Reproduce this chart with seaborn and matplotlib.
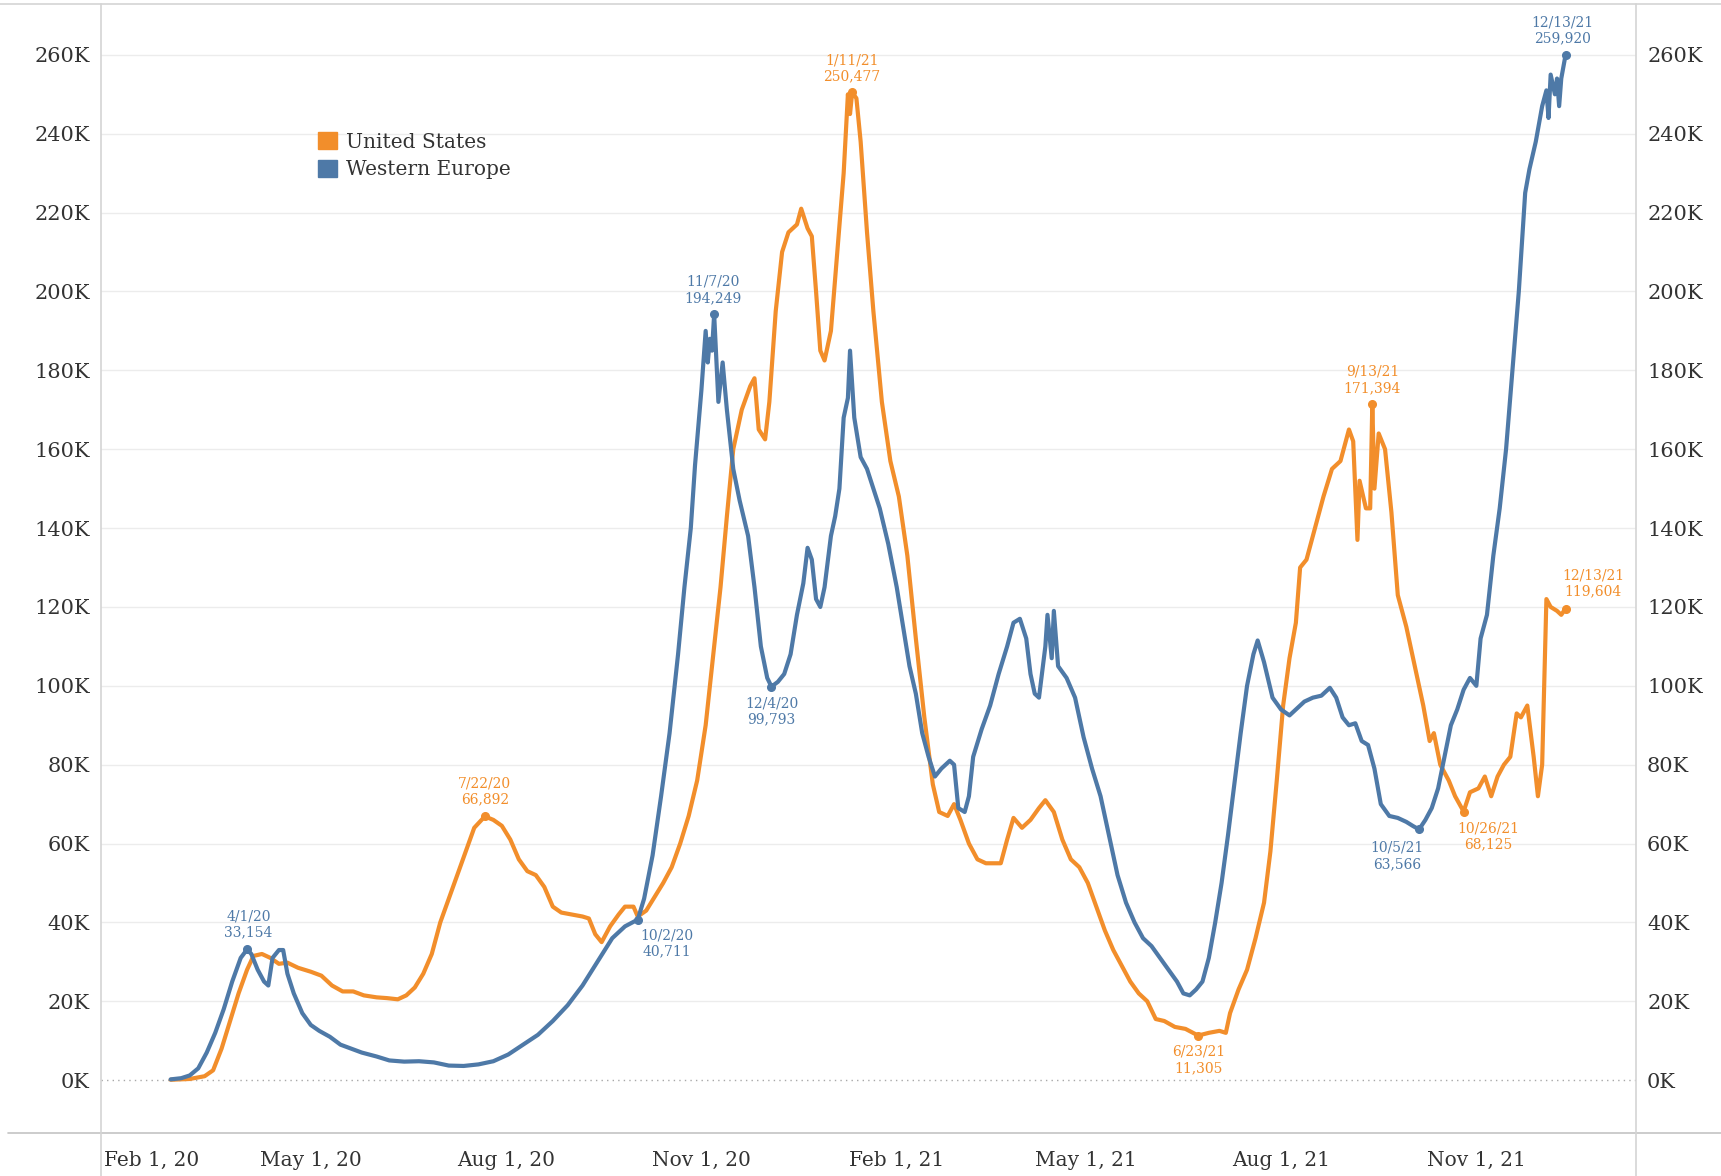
import pandas as pd
import seaborn as sns
import matplotlib.pyplot as plt
import matplotlib.dates as mdates
from matplotlib.lines import Line2D
from matplotlib.patches import Patch
from matplotlib.ticker import FuncFormatter
from matplotlib.transforms import ScaledTranslation

# daily new cases (7-day avg), in thousands
us_dates = [
    "2020-02-25", "2020-03-05", "2020-03-12", "2020-03-16", "2020-03-20", "2020-03-24",
    "2020-03-28", "2020-04-01", "2020-04-04", "2020-04-08", "2020-04-12", "2020-04-16",
    "2020-04-20", "2020-04-25", "2020-05-01", "2020-05-06", "2020-05-11", "2020-05-16",
    "2020-05-21", "2020-05-26", "2020-06-01", "2020-06-06", "2020-06-11", "2020-06-15",
    "2020-06-19", "2020-06-23", "2020-06-27", "2020-07-01", "2020-07-05", "2020-07-09",
    "2020-07-13", "2020-07-17", "2020-07-22", "2020-07-26", "2020-07-30", "2020-08-03",
    "2020-08-07", "2020-08-11", "2020-08-15", "2020-08-19", "2020-08-23", "2020-08-27",
    "2020-09-01", "2020-09-06", "2020-09-09", "2020-09-12", "2020-09-15", "2020-09-19",
    "2020-09-23", "2020-09-26", "2020-09-30", "2020-10-02", "2020-10-06", "2020-10-10",
    "2020-10-14", "2020-10-18", "2020-10-22", "2020-10-26", "2020-10-30", "2020-11-03",
    "2020-11-07", "2020-11-10", "2020-11-13", "2020-11-16", "2020-11-20", "2020-11-24",
    "2020-11-26", "2020-11-28", "2020-12-01", "2020-12-03", "2020-12-06", "2020-12-09",
    "2020-12-12", "2020-12-16", "2020-12-18", "2020-12-21", "2020-12-23", "2020-12-25",
    "2020-12-27", "2020-12-29", "2021-01-01", "2021-01-04", "2021-01-07", "2021-01-09",
    "2021-01-10", "2021-01-11", "2021-01-13", "2021-01-15", "2021-01-18", "2021-01-21",
    "2021-01-25", "2021-01-29", "2021-02-02", "2021-02-06", "2021-02-10", "2021-02-14",
    "2021-02-18", "2021-02-21", "2021-02-25", "2021-02-28", "2021-03-03", "2021-03-07",
    "2021-03-11", "2021-03-15", "2021-03-19", "2021-03-22", "2021-03-25", "2021-03-28",
    "2021-04-01", "2021-04-05", "2021-04-09", "2021-04-12", "2021-04-16", "2021-04-20",
    "2021-04-24", "2021-04-28", "2021-05-02", "2021-05-06", "2021-05-10", "2021-05-14",
    "2021-05-18", "2021-05-22", "2021-05-26", "2021-05-30", "2021-06-03", "2021-06-07",
    "2021-06-12", "2021-06-17", "2021-06-23", "2021-06-28", "2021-07-03", "2021-07-06",
    "2021-07-08", "2021-07-12", "2021-07-16", "2021-07-20", "2021-07-24", "2021-07-27",
    "2021-07-30", "2021-08-02", "2021-08-05", "2021-08-08", "2021-08-10", "2021-08-13",
    "2021-08-17", "2021-08-21", "2021-08-25", "2021-08-29", "2021-09-02", "2021-09-04",
    "2021-09-06", "2021-09-07", "2021-09-10", "2021-09-12", "2021-09-13", "2021-09-14",
    "2021-09-16", "2021-09-19", "2021-09-22", "2021-09-25", "2021-09-29", "2021-10-03",
    "2021-10-07", "2021-10-10", "2021-10-12", "2021-10-15", "2021-10-19", "2021-10-22",
    "2021-10-26", "2021-10-29", "2021-11-02", "2021-11-05", "2021-11-08", "2021-11-11",
    "2021-11-14", "2021-11-17", "2021-11-20", "2021-11-22", "2021-11-25", "2021-11-28",
    "2021-11-30", "2021-12-02", "2021-12-04", "2021-12-06", "2021-12-09", "2021-12-11",
    "2021-12-13",
]
us_cases = [
    0.1, 0.3, 1.0, 2.5, 8, 15,
    22, 28, 31.5, 32, 31, 29.5,
    29.8, 28.5, 27.5, 26.5, 24, 22.5,
    22.5, 21.5, 21, 20.8, 20.5, 21.5,
    23.5, 27, 32, 40, 46, 52,
    58, 64, 66.892, 66, 64.5, 61,
    56, 53, 52, 49, 44, 42.5,
    42, 41.5, 41, 37, 35, 39,
    42, 44, 44, 41.5, 43, 46.5,
    50, 54, 60, 67, 76, 90,
    110, 125, 143, 160, 170, 176,
    178, 165, 162.5, 172, 195, 210,
    215, 217, 221, 216, 214, 200,
    185, 182.5, 190, 210, 230, 250,
    245, 250.477, 249, 238, 215, 195,
    172, 157, 148, 133, 112, 92,
    75, 68, 67, 70, 66, 60,
    56, 55, 55, 55, 61, 66.5,
    64, 66, 69, 71, 68, 61,
    56, 54, 50, 44, 38, 33,
    29, 25, 22, 20, 15.5, 15,
    13.5, 13, 11.305, 12, 12.5, 12,
    17, 23, 28, 36, 45, 58,
    76, 95, 107, 116, 130, 132,
    140, 148, 155, 157, 165, 162,
    137, 152, 145, 145, 171.394, 150,
    164, 160, 144, 123, 115, 105,
    95, 86, 88, 80, 76, 72,
    68.125, 73, 74, 77, 72, 77,
    80, 82, 93, 92, 95, 82,
    72, 80, 122, 120, 119, 118,
    119.604,
]

we_dates = [
    "2020-02-25", "2020-03-01", "2020-03-05", "2020-03-09", "2020-03-13", "2020-03-17",
    "2020-03-21", "2020-03-25", "2020-03-29", "2020-04-01", "2020-04-03", "2020-04-06",
    "2020-04-09", "2020-04-11", "2020-04-13", "2020-04-16", "2020-04-18", "2020-04-20",
    "2020-04-23", "2020-04-27", "2020-05-01", "2020-05-05", "2020-05-10", "2020-05-15",
    "2020-05-20", "2020-05-25", "2020-06-01", "2020-06-07", "2020-06-14", "2020-06-21",
    "2020-06-28", "2020-07-05", "2020-07-12", "2020-07-19", "2020-07-26", "2020-08-02",
    "2020-08-09", "2020-08-16", "2020-08-23", "2020-08-30", "2020-09-06", "2020-09-13",
    "2020-09-20", "2020-09-26", "2020-10-02", "2020-10-05", "2020-10-09", "2020-10-13",
    "2020-10-17", "2020-10-21", "2020-10-24", "2020-10-27", "2020-10-29", "2020-11-01",
    "2020-11-03", "2020-11-04", "2020-11-05", "2020-11-06", "2020-11-07", "2020-11-09",
    "2020-11-11", "2020-11-13", "2020-11-16", "2020-11-19", "2020-11-23", "2020-11-26",
    "2020-11-29", "2020-12-02", "2020-12-04", "2020-12-07", "2020-12-10", "2020-12-13",
    "2020-12-16", "2020-12-19", "2020-12-21", "2020-12-23", "2020-12-25", "2020-12-27",
    "2020-12-29", "2021-01-01", "2021-01-03", "2021-01-05", "2021-01-07", "2021-01-09",
    "2021-01-10", "2021-01-12", "2021-01-15", "2021-01-18", "2021-01-21", "2021-01-24",
    "2021-01-28", "2021-02-01", "2021-02-04", "2021-02-07", "2021-02-10", "2021-02-13",
    "2021-02-16", "2021-02-19", "2021-02-22", "2021-02-26", "2021-02-28", "2021-03-02",
    "2021-03-05", "2021-03-07", "2021-03-09", "2021-03-13", "2021-03-17", "2021-03-21",
    "2021-03-25", "2021-03-28", "2021-03-31", "2021-04-03", "2021-04-05", "2021-04-07",
    "2021-04-09", "2021-04-12", "2021-04-13", "2021-04-15", "2021-04-16", "2021-04-18",
    "2021-04-22", "2021-04-26", "2021-04-30", "2021-05-04", "2021-05-08", "2021-05-12",
    "2021-05-16", "2021-05-20", "2021-05-24", "2021-05-28", "2021-06-01", "2021-06-05",
    "2021-06-09", "2021-06-13", "2021-06-16", "2021-06-19", "2021-06-22", "2021-06-25",
    "2021-06-28", "2021-07-01", "2021-07-04", "2021-07-07", "2021-07-10", "2021-07-13",
    "2021-07-16", "2021-07-19", "2021-07-21", "2021-07-24", "2021-07-28", "2021-08-01",
    "2021-08-05", "2021-08-08", "2021-08-12", "2021-08-16", "2021-08-20", "2021-08-24",
    "2021-08-27", "2021-08-30", "2021-09-02", "2021-09-05", "2021-09-08", "2021-09-11",
    "2021-09-14", "2021-09-17", "2021-09-21", "2021-09-25", "2021-09-29", "2021-10-02",
    "2021-10-05", "2021-10-08", "2021-10-11", "2021-10-14", "2021-10-17", "2021-10-20",
    "2021-10-23", "2021-10-26", "2021-10-29", "2021-11-01", "2021-11-03", "2021-11-06",
    "2021-11-09", "2021-11-12", "2021-11-15", "2021-11-18", "2021-11-21", "2021-11-24",
    "2021-11-26", "2021-11-29", "2021-12-02", "2021-12-04", "2021-12-05", "2021-12-06",
    "2021-12-08", "2021-12-09", "2021-12-10", "2021-12-11", "2021-12-13",
]
we_cases = [
    0.2, 0.5, 1.2, 3, 7, 12,
    18, 25, 31, 33.154, 32, 28,
    25, 24, 31, 33, 33, 27,
    22, 17, 14, 12.5, 11, 9,
    8, 7, 6, 5, 4.7, 4.8,
    4.5, 3.7, 3.6, 4, 4.8, 6.5,
    9, 11.5, 15, 19, 24, 30,
    36, 39, 40.711, 46, 57, 72,
    88, 108, 125, 140, 156, 175,
    190, 182, 188, 185, 194.249, 172,
    182, 170, 155, 147, 138, 125,
    110, 102, 99.793, 101, 103, 108,
    118, 126, 135, 132, 122, 120,
    125, 138, 143, 150, 168, 173,
    185, 168, 158, 155, 150, 145,
    136, 125, 115, 105, 98, 88,
    82, 77, 79, 81, 80, 69,
    68, 72, 82, 89, 95, 103,
    110, 116, 117, 112, 103, 98,
    97, 110, 118, 107, 119, 105,
    102, 97, 87, 79, 72, 62,
    52, 45, 40, 36, 34, 31,
    28, 25, 22, 21.5, 23, 25,
    31, 40, 50, 62, 75, 88,
    100, 108, 111.5, 106, 97, 94,
    92.5, 94, 96, 97, 97.5, 99.5,
    97, 92, 90, 90.5, 86, 85,
    79, 70, 67, 66.5, 65.5, 64.5,
    63.566, 66, 69, 74, 82, 90,
    94, 99, 102, 100, 112, 118,
    133, 145, 160, 180, 200, 225,
    231, 238, 247, 251, 244, 255,
    250, 254, 247, 254, 259.92,
]

regions = ["United States", "Western Europe"]
colors = ["#F28E2B", "#4E79A7"]

# labelled marks
us_marked = ["2020-07-22", "2021-01-11", "2021-06-23", "2021-09-13", "2021-10-26", "2021-12-13"]
we_marked = ["2020-04-01", "2020-10-02", "2020-11-07", "2020-12-04", "2021-10-05", "2021-12-13"]
y_ticks = list(range(0, 261, 20))

# label offsets in points (dx, dy)
us_offsets = [(0, 18), (0, 17.5), (0, -17.5), (0, 17.5), (18, -18), (20, 18)]
we_offsets = [(1, 18), (21, -17), (-1, 17.5), (0, -18), (-16, -19), (-2, 18)]

sns.set_style("white")
plt.rcParams["font.family"] = ["DejaVu Serif"]

df = pd.concat([
    pd.DataFrame({"date": pd.to_datetime(us_dates), "cases": us_cases, "region": regions[0]}),
    pd.DataFrame({"date": pd.to_datetime(we_dates), "cases": we_cases, "region": regions[1]}),
])

fig = plt.figure(figsize=(17.21, 11.76), dpi=100)
W, H = 1721, 1176
ax = fig.add_axes([101 / W, 1 - 1133 / H, (1636 - 101) / W, (1133 - 4.4) / H])

sns.lineplot(data=df, x="date", y="cases", hue="region", palette=dict(zip(regions, colors)),
             linewidth=3.0, legend=False, ax=ax, zorder=3)

# marks + labels
for dates, vals, marked, offs, col in [(us_dates, us_cases, us_marked, us_offsets, colors[0]),
                                       (we_dates, we_cases, we_marked, we_offsets, colors[1])]:
    lookup = dict(zip(dates, vals))
    for d, (dx, dy) in zip(marked, offs):
        v = lookup[d]
        t = pd.Timestamp(d)
        ax.plot([t], [v], "o", color=col, ms=5.5, zorder=4)
        txt = f"{t.month}/{t.day}/{t.strftime('%y')}\n{v * 1000:,.0f}"
        ax.annotate(txt, (t, v), xytext=(dx, dy), textcoords="offset points",
                    ha="center", va="center", color=col, fontsize=10, linespacing=1.2)

start = pd.Timestamp("2020-02-01")
ax.set_xlim(start - pd.Timedelta(days=8.8), start + pd.Timedelta(days=714.2))
ax.set_ylim(-13.4, 272.8)

ax.set_yticks(y_ticks)
ax.yaxis.set_major_formatter(FuncFormatter(lambda v, p: f"{v:.0f}K"))
ax.tick_params(axis="y", length=0, labelsize=15, pad=8, labelleft=True, labelright=True,
               labelcolor="#333333")
ax.yaxis.grid(True, color="#ececec", lw=1)
gl = ax.yaxis.get_gridlines()
gl[0].set_linestyle((0, (1, 3)))
gl[0].set_color("#a8a8a8")

ax.xaxis.set_major_locator(mdates.MonthLocator(bymonth=[2, 5, 8, 11]))
ax.xaxis.set_minor_locator(mdates.MonthLocator())
ax.xaxis.set_major_formatter(FuncFormatter(
    lambda v, p: (lambda d: f"{d:%b} {d.day}, {d:%y}")(mdates.num2date(v))))
ax.tick_params(axis="x", which="both", length=4, color="#cfcfcf", labelsize=14.5, pad=9,
               labelcolor="#333333")
ax.set_xlabel("")
ax.set_ylabel("")
for s in ax.spines.values():
    s.set_visible(False)

# first date label is pushed right to stay in the pane
fig.canvas.draw()
first = ax.get_xticklabels()[0]
first.set_horizontalalignment("left")
first.set_transform(first.get_transform() + ScaledTranslation(-0.155, 0, fig.dpi_scale_trans))

handles = [Patch(facecolor=c, edgecolor=c, label=r) for r, c in zip(regions, colors)]
ax.legend(handles=handles, loc="upper left", bbox_to_anchor=(0.1415, 0.887), frameon=False,
          fontsize=14.5, handlelength=0.95, handleheight=0.95, handletextpad=0.45,
          labelspacing=0.4, borderaxespad=0, borderpad=0, labelcolor="#333333")

# pane borders
line_c = "#d4d4d4"
fig.add_artist(Line2D([0, 1], [1 - 4.4 / H] * 2, color=line_c, lw=1.2))
fig.add_artist(Line2D([8 / W, 1], [1 - 1133 / H] * 2, color="#c4c4c4", lw=1.2))
fig.add_artist(Line2D([101 / W] * 2, [0, 1 - 4.4 / H], color=line_c, lw=1.2))
fig.add_artist(Line2D([1636 / W] * 2, [0, 1 - 4.4 / H], color=line_c, lw=1.2))

plt.savefig("out.png", dpi=100)
